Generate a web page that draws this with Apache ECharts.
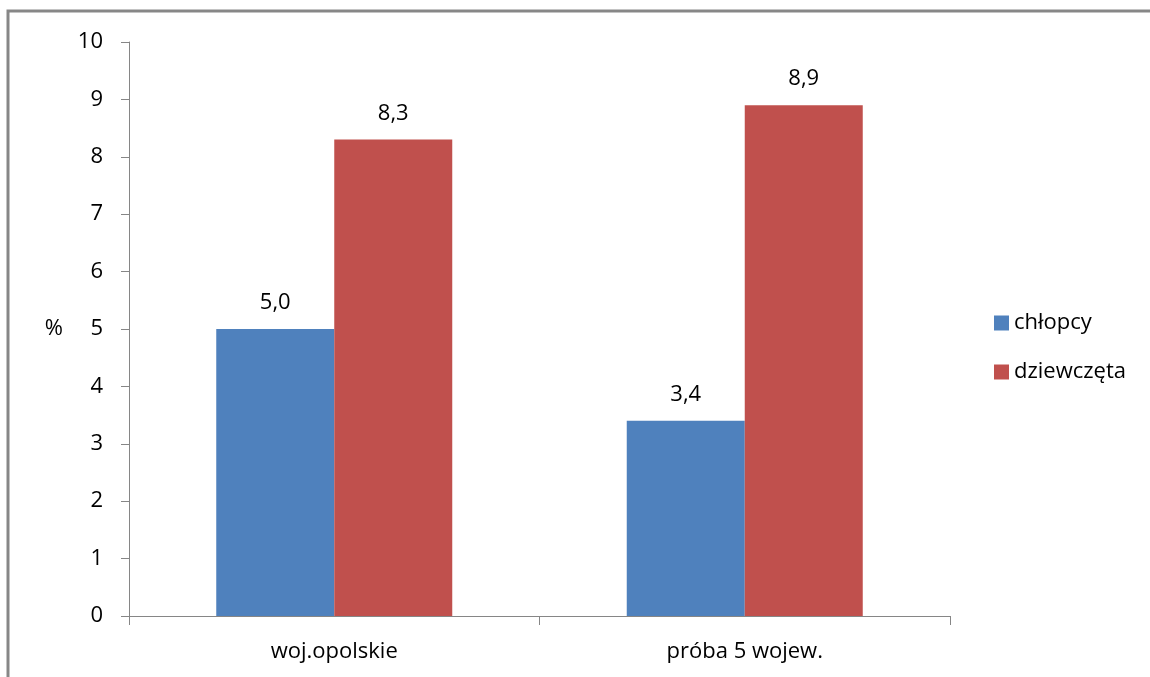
<!DOCTYPE html>
<html>
<head>
<meta charset="utf-8">
<script src="https://cdn.jsdelivr.net/npm/echarts@6/dist/echarts.min.js"></script>
<style>
  html, body { margin: 0; padding: 0; background: #fff; }
  #chart { width: 1150px; height: 677px; }
</style>
</head>
<body>
<div id="chart"></div>
<script>
// Share of pupils (%), by region and sex
const categories = ['woj.opolskie', 'próba 5 wojew.'];
const boys = [5.0, 3.4];
const girls = [8.3, 8.9];
const seriesNames = ['chłopcy', 'dziewczęta'];

const FONT = '"Open Sans", "Noto Sans", sans-serif';
const FS = 22;
const AXIS_GREY = '#868686';

const chart = echarts.init(document.getElementById('chart'));

const commaLabel = p => p.value.toFixed(1).replace('.', ',');

chart.setOption({
  animation: false,
  backgroundColor: '#ffffff',
  textStyle: { fontFamily: FONT, color: '#000' },
  grid: { left: 129, right: 200, top: 42, bottom: 61, containLabel: false },
  graphic: [{
    type: 'polyline',
    shape: { points: [[8, 677], [8, 11], [1150, 11]] },
    style: { stroke: '#878787', lineWidth: 3, fill: null }
  }],
  legend: {
    orient: 'vertical',
    left: 994,
    top: 312,
    padding: 0,
    itemWidth: 15,
    itemHeight: 15,
    itemGap: 27,
    icon: 'rect',
    textStyle: { fontFamily: FONT, fontSize: FS, color: '#000' },
    data: seriesNames
  },
  xAxis: {
    type: 'category',
    data: categories,
    axisLine: { lineStyle: { color: AXIS_GREY, width: 1 } },
    axisTick: { show: true, length: 9, lineStyle: { color: AXIS_GREY } },
    axisLabel: { fontFamily: FONT, fontSize: FS, color: '#000', margin: 25 }
  },
  yAxis: {
    type: 'value',
    min: 0,
    max: 10,
    interval: 1,
    name: '%',
    nameLocation: 'middle',
    nameRotate: 0,
    nameGap: 66,
    nameTextStyle: { fontFamily: FONT, fontSize: FS, color: '#000' },
    axisLine: { show: true, lineStyle: { color: AXIS_GREY, width: 1 } },
    axisTick: { show: true, length: 8, lineStyle: { color: AXIS_GREY } },
    splitLine: { show: false },
    axisLabel: { fontFamily: FONT, fontSize: FS, color: '#000', margin: 26 }
  },
  series: [
    {
      name: seriesNames[0],
      type: 'bar',
      data: boys,
      barWidth: 118,
      barGap: '0%',
      barCategoryGap: '43%',
      itemStyle: { color: '#4F81BD' },
      label: { show: true, position: 'top', distance: 15, fontFamily: FONT, fontSize: FS, color: '#000', formatter: commaLabel }
    },
    {
      name: seriesNames[1],
      type: 'bar',
      data: girls,
      barWidth: 118,
      barGap: '0%',
      itemStyle: { color: '#C0504D' },
      label: { show: true, position: 'top', distance: 15, fontFamily: FONT, fontSize: FS, color: '#000', formatter: commaLabel }
    }
  ]
});
</script>
</body>
</html>
